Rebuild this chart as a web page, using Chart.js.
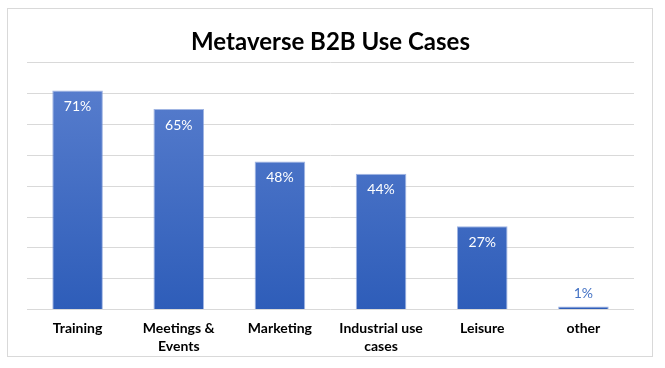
<!DOCTYPE html>
<html>
<head>
<meta charset="utf-8">
<script src="https://cdn.jsdelivr.net/npm/chart.js@4.4.1/dist/chart.umd.min.js"></script>
<style>
  html, body { margin: 0; padding: 0; background: #fff; }
  #wrap { position: relative; width: 665px; height: 368px; }
  #frame {
    position: absolute; left: 7px; top: 8px; width: 646px; height: 349px;
    border: 1px solid #d9d9d9; box-sizing: border-box; pointer-events: none;
  }
  canvas { position: absolute; left: 0; top: 0; }
</style>
</head>
<body>
<div id="wrap">
  <canvas id="chart" width="665" height="368"></canvas>
  <div id="frame"></div>
</div>
<script>
// ── Data ──
const categories = ['Training', ['Meetings &', 'Events'], 'Marketing', ['Industrial use', 'cases'], 'Leisure', 'other'];
const shares = [71, 65, 48, 44, 27, 1];
const yMax = 80;
const yStep = 10;

const blueTop = '#5b80cf';
const blueBottom = '#2e5db9';
const labelBlue = '#4472c4';
const gridColor = '#d9d9d9';
const fontFamily = "Lato, 'Open Sans', sans-serif";

// ── Value labels drawn on top of each bar ──
const valueLabels = {
  id: 'valueLabels',
  afterDatasetsDraw(chart) {
    const ctx = chart.ctx;
    const meta = chart.getDatasetMeta(0);
    ctx.save();
    ctx.font = '14px ' + fontFamily;
    ctx.textAlign = 'center';
    ctx.textBaseline = 'middle';
    meta.data.forEach((bar, i) => {
      const text = shares[i] + '%';
      const h = bar.base - bar.y;
      if (h > 25) {
        ctx.fillStyle = '#ffffff';
        ctx.fillText(text, bar.x, bar.y + 16);
      } else {
        ctx.fillStyle = labelBlue;
        ctx.fillText(text, bar.x, bar.y - 13);
      }
    });
    ctx.restore();
  }
};

function barGradient(context) {
  const area = context.chart.chartArea;
  if (!area) return blueBottom;
  const g = context.chart.ctx.createLinearGradient(0, area.top, 0, area.bottom);
  g.addColorStop(0, blueTop);
  g.addColorStop(1, blueBottom);
  return g;
}

new Chart(document.getElementById('chart'), {
  type: 'bar',
  data: {
    labels: categories,
    datasets: [{
      data: shares,
      backgroundColor: barGradient,
      borderColor: 'rgba(120,150,215,0.7)',
      borderWidth: 1,
      categoryPercentage: 1,
      barPercentage: 0.5
    }]
  },
  options: {
    responsive: false,
    animation: false,
    layout: { padding: { left: 27, right: 31, top: 16, bottom: 2 } },
    plugins: {
      legend: { display: false },
      tooltip: { enabled: false },
      title: {
        display: true,
        text: 'Metaverse B2B Use Cases',
        color: '#000',
        font: { family: fontFamily, size: 24, weight: 'bold' },
        padding: { top: 12, bottom: 6 }
      }
    },
    scales: {
      y: {
        min: 0,
        max: yMax,
        ticks: { display: false, stepSize: yStep },
        grid: { color: gridColor, lineWidth: 1, drawTicks: false },
        border: { display: false }
      },
      x: {
        grid: { display: false, drawTicks: false },
        border: { display: false },
        ticks: {
          color: '#000',
          padding: 10,
          maxRotation: 0,
          autoSkip: false,
          font: { family: fontFamily, size: 14, weight: 'bold', lineHeight: 1.3 }
        }
      }
    }
  },
  plugins: [valueLabels]
});
</script>
</body>
</html>
